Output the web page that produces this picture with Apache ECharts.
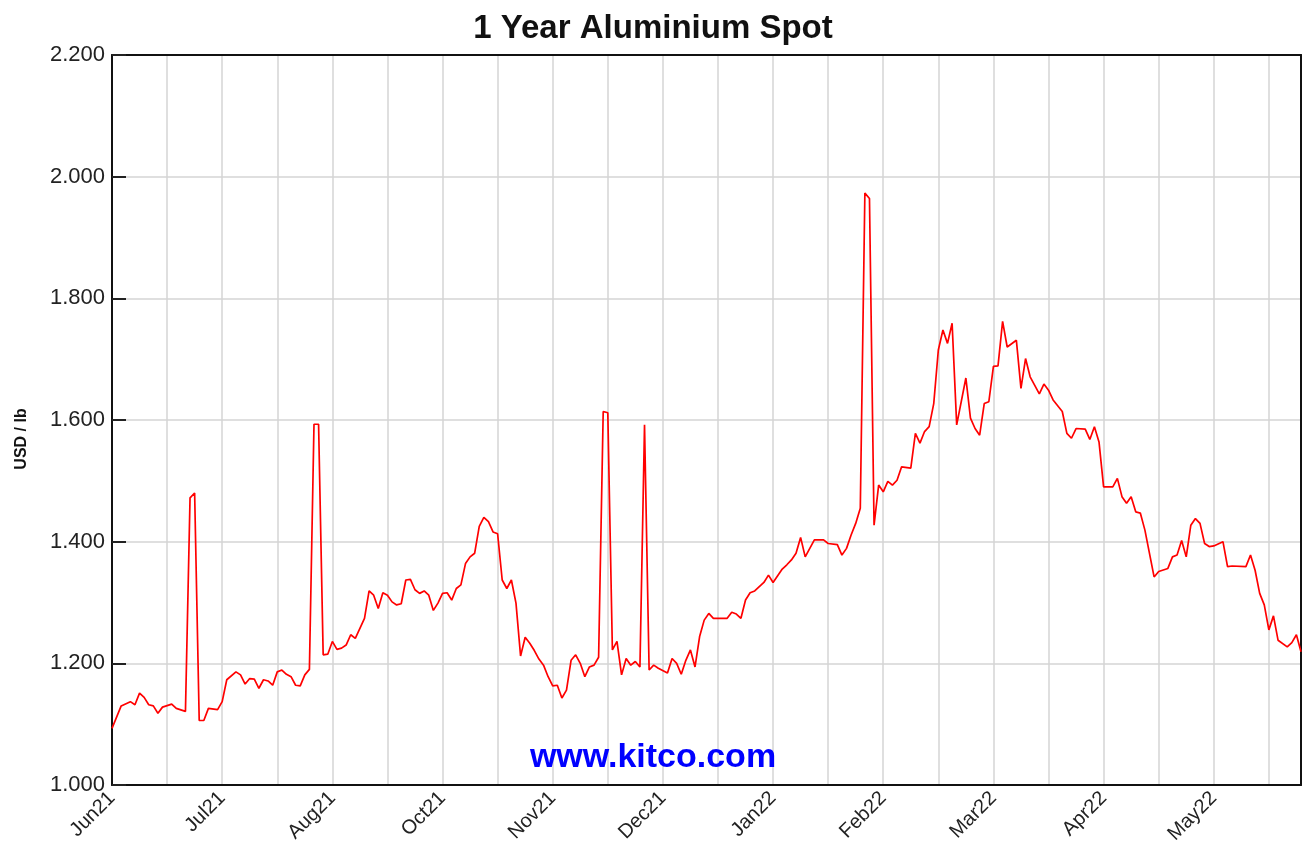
<!DOCTYPE html>
<html>
<head>
<meta charset="utf-8">
<script src="https://cdn.jsdelivr.net/npm/echarts@6/dist/echarts.min.js"></script>
<style>
html,body{margin:0;padding:0;background:#fff;}
#chart{width:1306px;height:851px;}
</style>
</head>
<body>
<div id="chart"></div>
<script>
// trading-day index (0 = start of Jun21 window) and aluminium spot price, USD/lb
var days = [0,2,4,5,6,7,8,9,10,11,13,14,16,17,18,19,20,21,23,24,25,27,28,29,30,31,32,33,34,35,36,37,38,39,40,41,42,43,44,45,46,47,48,49,50,
51,52,53,55,56,57,58,59,60,61,62,63,64,65,66,67,68,69,70,71,72,73,74,75,76,77,78,79,80,81,82,83,84,85,86,87,88,89,90,91,92,93,94,95,96,97,98,99,100,
101,102,103,104,105,106,107,108,109,110,111,112,113,114,115,116,117,118,119,121,122,123,124,125,126,127,128,129,130,131,134,135,136,137,138,139,140,142,143,144,146,147,148,149,150,151,
153,155,156,158,159,160,161,162,163,164,165,166,167,168,169,170,171,172,174,175,176,177,178,179,180,181,182,183,184,186,187,188,189,190,191,192,193,194,195,197,198,199,200,
202,203,204,205,207,208,209,210,212,213,214,215,216,218,219,220,221,222,223,224,225,227,228,230,231,232,233,234,235,236,237,238,239,240,242,243,244,247,248,249,250,251,252,253,254,256,257,258,259];
var prices = [1.093,1.130,1.137,1.132,1.151,1.144,1.132,1.130,1.118,1.128,1.133,1.126,1.121,1.472,1.480,1.106,1.106,1.126,1.124,1.137,1.173,1.186,1.181,1.166,1.175,1.174,1.159,1.173,1.171,1.164,1.186,1.189,1.182,1.178,1.164,1.163,1.181,1.190,1.593,1.593,1.214,1.215,1.236,1.223,1.225,
1.230,1.247,1.241,1.274,1.319,1.312,1.290,1.316,1.312,1.301,1.296,1.298,1.337,1.338,1.321,1.315,1.319,1.312,1.287,1.299,1.315,1.316,1.304,1.323,1.329,1.364,1.375,1.381,1.425,1.440,1.433,1.416,1.413,1.337,1.323,1.337,1.299,1.212,1.243,1.233,1.221,1.207,1.197,1.178,1.163,1.164,1.143,1.156,1.205,
1.214,1.200,1.178,1.194,1.197,1.210,1.614,1.612,1.222,1.236,1.181,1.208,1.197,1.203,1.194,1.592,1.189,1.197,1.192,1.184,1.208,1.200,1.182,1.205,1.222,1.194,1.244,1.271,1.282,1.274,1.274,1.284,1.281,1.274,1.304,1.316,1.319,1.333,1.345,1.333,1.355,1.362,1.370,1.381,1.407,1.375,
1.403,1.403,1.397,1.395,1.378,1.389,1.411,1.430,1.455,1.973,1.964,1.427,1.493,1.482,1.499,1.493,1.501,1.523,1.521,1.578,1.562,1.581,1.589,1.627,1.715,1.748,1.726,1.759,1.592,1.669,1.603,1.586,1.575,1.627,1.630,1.688,1.689,1.762,1.720,1.731,1.652,1.701,1.671,
1.643,1.659,1.649,1.633,1.614,1.578,1.570,1.586,1.585,1.568,1.589,1.564,1.490,1.490,1.504,1.474,1.463,1.474,1.449,1.447,1.419,1.342,1.351,1.356,1.375,1.378,1.402,1.375,1.427,1.438,1.430,1.397,1.392,1.393,1.400,1.359,1.360,1.359,1.378,1.353,1.315,1.296,1.255,1.278,1.238,1.227,1.234,1.247,1.219];
// x tick labels, one every 24 trading days
var tickLabels = ['Jun21','Jul21','Aug21','Oct21','Nov21','Dec21','Jan22','Feb22','Mar22','Apr22','May22'];
var yTicks = [1.0, 1.2, 1.4, 1.6, 1.8, 2.0, 2.2];

var seriesData = days.map(function(d, i){ return [d, prices[i]]; });
var FONT = 'Liberation Sans, Arial, sans-serif';

var chart = echarts.init(document.getElementById('chart'), null, {renderer:'canvas'});
chart.setOption({
  animation:false,
  backgroundColor:'#ffffff',
  title:{
    text:'1 Year Aluminium Spot',
    left:'center', top:7,
    textStyle:{fontFamily:FONT, fontSize:33, fontWeight:'bold', color:'#111'}
  },
  grid:{left:112, right:5, top:55, bottom:66, show:false},
  xAxis:[{
    type:'value', min:0, max:259, interval:12, position:'bottom',
    axisLine:{show:true, onZero:false, lineStyle:{color:'#111', width:2}},
    axisTick:{show:false},
    splitLine:{show:true, lineStyle:{color:'#d4d4d4', width:1.5}},
    axisLabel:{
      rotate:45, margin:10,
      fontFamily:FONT, fontSize:20, color:'#222',
      formatter:function(v){
        if (v % 24 === 0 && v/24 < tickLabels.length) return tickLabels[v/24];
        return '';
      }
    }
  },{
    type:'value', min:0, max:259, position:'top',
    axisLine:{show:true, onZero:false, lineStyle:{color:'#111', width:2}},
    axisTick:{show:false}, axisLabel:{show:false}, splitLine:{show:false}
  }],
  yAxis:[{
    type:'value', min:yTicks[0], max:yTicks[yTicks.length-1], interval:0.2, position:'left',
    axisLine:{show:true, onZero:false, lineStyle:{color:'#111', width:2}},
    axisTick:{show:true, inside:true, length:14, lineStyle:{color:'#222', width:2}},
    splitLine:{show:true, lineStyle:{color:'#d4d4d4', width:1.5}},
    axisLabel:{
      margin:7, fontFamily:FONT, fontSize:22, color:'#222',
      formatter:function(v){ return v.toFixed(3); }
    }
  },{
    type:'value', min:yTicks[0], max:yTicks[yTicks.length-1], position:'right',
    axisLine:{show:true, onZero:false, lineStyle:{color:'#111', width:2}},
    axisTick:{show:false}, axisLabel:{show:false}, splitLine:{show:false}
  }],
  graphic:[{
    type:'text', left:'center', top:741, z:10,
    style:{text:'www.kitco.com', fill:'#0000ff', font:'bold 34px "Liberation Sans", Arial, sans-serif'}
  },{
    type:'text', x:22, y:439, rotation:Math.PI/2, z:10,
    style:{text:'USD / lb', fill:'#111', font:'bold 16px "Liberation Sans", Arial, sans-serif', align:'center', verticalAlign:'middle'}
  }],
  series:[{
    type:'line', data:seriesData, showSymbol:false, symbol:'none',
    lineStyle:{color:'#ff0000', width:1.7}, z:5
  }]
});
</script>
</body>
</html>
